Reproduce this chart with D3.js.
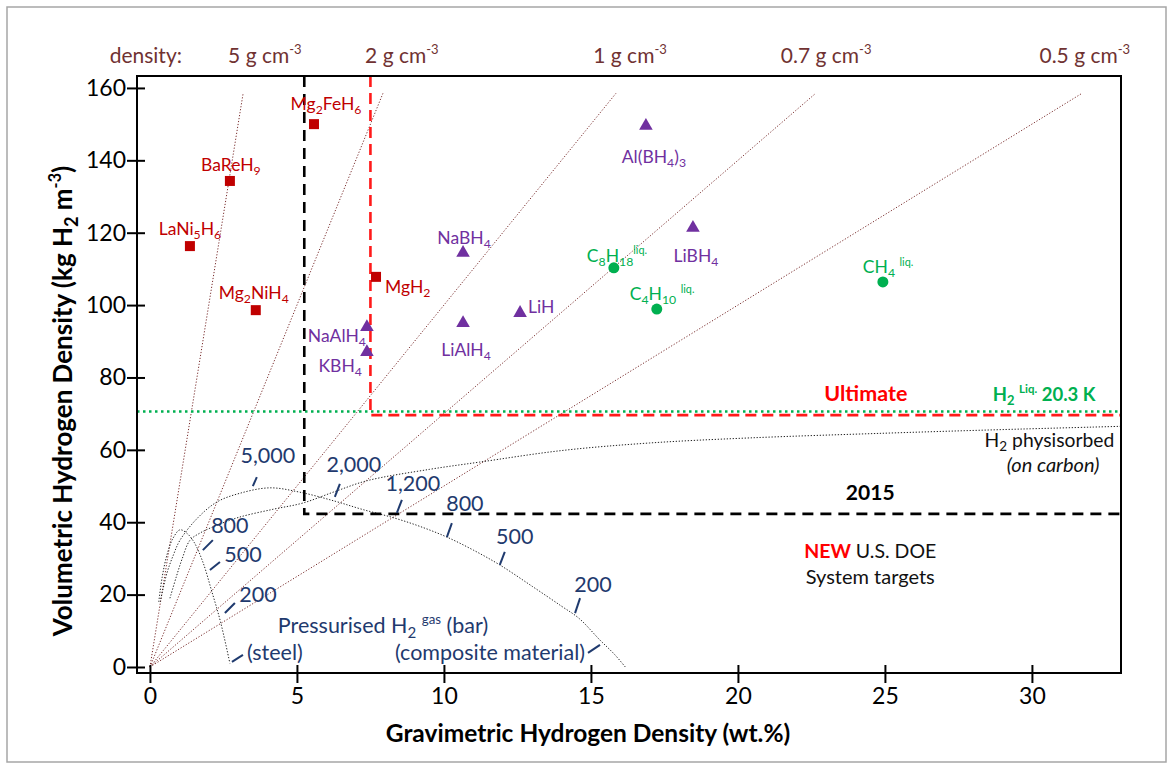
<!DOCTYPE html>
<html><head><meta charset="utf-8">
<script src="https://cdn.jsdelivr.net/npm/d3@7"></script>
<style>
body{margin:0;background:#fff}
svg{display:block}
text{font-family:Lato,"Open Sans",sans-serif}
</style></head>
<body><svg id="chart" width="1170" height="765"></svg>
<script>
// ---------- DATA ----------
const xTickValues = [0, 5, 10, 15, 20, 25, 30];
const yTickValues = [0, 20, 40, 60, 80, 100, 120, 140, 160];

const densityValues = [5, 2, 1, 0.7, 0.5];          // g cm^-3
const densityLabels = ["5", "2", "1", "0.7", "0.5"];
const densityLineTop = 158.5;                       // kg m^-3 where dotted lines end

const metalNames = ["Mg_{2}FeH_{6}", "BaReH_{9}", "LaNi_{5}H_{6}", "Mg_{2}NiH_{4}", "MgH_{2}"];
const metalWt    = [5.58, 2.72, 1.36, 3.60, 7.69];
const metalVol   = [150.0, 134.3, 116.3, 98.6, 107.8];

const complexNames = ["Al(BH_{4})_{3}", "LiBH_{4}", "NaBH_{4}", "LiAlH_{4}", "LiH", "NaAlH_{4}", "KBH_{4}"];
const complexWt    = [16.87, 18.47, 10.65, 10.65, 12.59, 7.38, 7.38];
const complexVol   = [149.8, 121.6, 114.7, 95.3, 98.1, 94.2, 87.3];

const liquidNames = ["C_{8}H_{18}^{liq.}", "C_{4}H_{10} ^{liq.}", "CH_{4} ^{liq.}"];
const liquidWt    = [15.78, 17.24, 24.93];
const liquidVol   = [110.3, 98.9, 106.4];

// target / reference values
const liquidH2Vol = 70.6;
const ultimateWt = 7.5, ultimateVol = 69.6;
const target2015Wt = 5.25, target2015Vol = 42.3;

// curves (wt.%, kg m^-3)
const steelCurve = [[0.3,18],[0.42,25],[0.58,31],[0.78,35.5],[1.02,37.9],[1.25,37],[1.5,34.5],[1.8,29],[2.1,21],[2.4,12.5],[2.72,1]];
const compositeCurve = [[0.35,18],[0.58,26],[0.8,31],[1.02,35],[1.6,41],[2.28,45.6],[3.06,48],[4.08,49.5],[5.1,48.3],[6.3,45.8],[7.2,43.6],[8.3,41.2],[9.2,38.8],[10.1,35.9],[11.0,32.3],[11.9,28.2],[13.0,22.3],[14.0,16.8],[14.6,13.4],[15.3,7.5],[15.8,3.5],[16.2,-0.3]];
const physiCurve = [[0.68,19],[0.9,25],[1.1,30],[1.36,35],[1.7,37],[2.14,38.7],[3.0,41.3],[4.2,43.6],[5.2,45.3],[6.3,48.5],[7.4,51.5],[9.5,54.6],[11.2,56.6],[14,59.8],[17,61.9],[20.4,63.3],[25,64.6],[29,65.6],[33.03,66.5]];

const pressureTexts = ["5,000", "800", "500", "200", "(steel)", "2,000", "1,200", "800", "500", "200", "(composite material)"];
const pressureWt    = [3.50, 1.80, 2.04, 2.55, 2.79, 6.29, 8.40, 10.10, 11.90, 14.46, 14.90];
const pressureVol   = [50.0, 32.3, 26.8, 14.9, 1.4, 47.0, 42.6, 35.9, 28.2, 14.9, 3.9];

// ---------- LAYOUT / STYLE ----------
const frame = {left: 137, top: 76, right: 1121, bottom: 673};
const x = d3.scaleLinear().domain([-0.44, 33.03]).range([frame.left, frame.right]);
const y = d3.scaleLinear().domain([-1.66, 163.3]).range([frame.bottom, frame.top]);

const RED = "#c00000", PURPLE = "#7030a0", GREEN = "#00b050", NAVY = "#1f3a6e", BROWN = "#703232", DLINE = "#7a2e2e";

const svg = d3.select("#chart");

// rich text helper: _{..} subscript, ^{..} superscript
function rich(sel, str, size) {
  const re = /(_\{[^}]*\}|\^\{[^}]*\}|[^_^]+)/g;
  let m, off = 0;
  sel.attr("font-size", size);
  while ((m = re.exec(str)) !== null) {
    const tok = m[0];
    let target = 0, txt = tok, fs = size;
    if (tok.startsWith("_{")) { txt = tok.slice(2, -1); target = 0.22 * size; fs = 0.7 * size; }
    else if (tok.startsWith("^{")) { txt = tok.slice(2, -1); target = -0.42 * size; fs = 0.62 * size; }
    sel.append("tspan").attr("dy", target - off).attr("font-size", fs).text(txt);
    off = target;
  }
}

// outer grey border
svg.append("rect").attr("x", 7).attr("y", 7).attr("width", 1159).attr("height", 755)
  .attr("fill", "none").attr("stroke", "#a6a6a6").attr("stroke-width", 1.5);

// density lines
const line = d3.line().x(d => x(d[0])).y(d => y(d[1]));
svg.append("g").selectAll("path").data(densityValues).join("path")
  .attr("d", d => line([[0, 0], [densityLineTop / (10 * d), densityLineTop]]))
  .attr("fill", "none").attr("stroke", DLINE).attr("stroke-width", 1)
  .attr("stroke-dasharray", "1.2,1.8");

// density labels
const densityLabelX = [3.91, 8.57, 16.33, 23.0, 31.8];
svg.append("text").attr("x", x(-0.14)).attr("y", 63).attr("text-anchor", "middle")
  .attr("fill", BROWN).attr("font-size", 21).text("density:");
densityLabels.forEach((t, i) => {
  const tx = svg.append("text").attr("x", x(densityLabelX[i])).attr("y", 63)
    .attr("text-anchor", "middle").attr("fill", BROWN);
  rich(tx, t + " g cm^{-3}", 21);
});

// pressure curves
const curve = d3.line().curve(d3.curveCatmullRom).x(d => x(d[0])).y(d => y(d[1]));
[steelCurve, compositeCurve, physiCurve].forEach(c => {
  svg.append("path").attr("d", curve(c)).attr("fill", "none")
    .attr("stroke", "#222").attr("stroke-width", 1).attr("stroke-dasharray", "1.3,1.7");
});

// target lines
svg.append("line").attr("x1", x(-0.44)).attr("x2", x(33.03)).attr("y1", y(liquidH2Vol)).attr("y2", y(liquidH2Vol))
  .attr("stroke", GREEN).attr("stroke-width", 2.6).attr("stroke-dasharray", "2.5,3.5");
svg.append("path")
  .attr("d", `M${x(ultimateWt)},${frame.top} L${x(ultimateWt)},${y(ultimateVol)} L${frame.right},${y(ultimateVol)}`)
  .attr("fill", "none").attr("stroke", "#ff1a1a").attr("stroke-width", 2.6).attr("stroke-dasharray", "11,6");
svg.append("path")
  .attr("d", `M${x(target2015Wt)},${frame.top} L${x(target2015Wt)},${y(target2015Vol)} L${frame.right},${y(target2015Vol)}`)
  .attr("fill", "none").attr("stroke", "#000").attr("stroke-width", 2.6).attr("stroke-dasharray", "11,7");

// pressure annotations
const pTick = [[4,-9],[10,-10],[10,-8],[10,-10],[11,-7],[5,-13],[5,-13],[5,-14],[5,-13],[5,-15],[12,-8]];
const pLab  = [[15,-23,"middle"],[27,-17,"middle"],[33,-8,"middle"],[33,-11,"middle"],[15,-2,"start"],
               [19,-25,"middle"],[16,-22,"middle"],[18,-26,"middle"],[15,-21,"middle"],[18,-21,"middle"],[-3,7,"end"]];
const pg = svg.append("g");
pressureTexts.forEach((t, i) => {
  const px = x(pressureWt[i]), py = y(pressureVol[i]);
  pg.append("line").attr("x1", px).attr("y1", py).attr("x2", px + pTick[i][0]).attr("y2", py + pTick[i][1])
    .attr("stroke", NAVY).attr("stroke-width", 2);
  pg.append("text").attr("x", px + pLab[i][0]).attr("y", py + pLab[i][1]).attr("text-anchor", pLab[i][2])
    .attr("fill", NAVY).attr("font-size", 21.5).text(t);
});
const pt = svg.append("text").attr("x", x(4.35)).attr("y", y(9.4)).attr("fill", NAVY);
rich(pt, "Pressurised H_{2} ^{gas} (bar)", 21.5);

// points
const pts = svg.append("g");
pts.selectAll("rect").data(metalWt.map((w, i) => [w, metalVol[i]])).join("rect")
  .attr("x", d => x(d[0]) - 5).attr("y", d => y(d[1]) - 5).attr("width", 10).attr("height", 10).attr("fill", RED);
const tri = d3.symbol().type(d3.symbolTriangle).size(80);
pts.selectAll("path.tri").data(complexWt.map((w, i) => [w, complexVol[i]])).join("path").attr("class", "tri")
  .attr("d", tri).attr("transform", d => `translate(${x(d[0])},${y(d[1]) + 1})`).attr("fill", PURPLE);
pts.selectAll("circle").data(liquidWt.map((w, i) => [w, liquidVol[i]])).join("circle")
  .attr("cx", d => x(d[0])).attr("cy", d => y(d[1])).attr("r", 5.5).attr("fill", GREEN);

// point labels
function labels(names, wt, vol, offs, color) {
  names.forEach((n, i) => {
    const t = svg.append("text").attr("x", x(wt[i]) + offs[i][0]).attr("y", y(vol[i]) + offs[i][1])
      .attr("text-anchor", offs[i][2]).attr("fill", color);
    rich(t, n, 17.5);
  });
}
labels(metalNames, metalWt, metalVol,
  [[12,-14,"middle"],[1,-10,"middle"],[0,-11,"middle"],[-2,-11,"middle"],[9,16,"start"]], RED);
labels(complexNames, complexWt, complexVol,
  [[8,38,"middle"],[3,35,"middle"],[1,-8,"middle"],[3,34,"middle"],[8,1,"start"],[-1,16,"end"],[-5,21,"end"]], PURPLE);
labels(liquidNames, liquidWt, liquidVol,
  [[-27,-6,"start"],[-27,-9,"start"],[-20,-9,"start"]], GREEN);

// legend-like annotations
svg.append("text").attr("x", x(24.35)).attr("y", y(73.5)).attr("text-anchor", "middle")
  .attr("fill", "#ff0000").attr("font-weight", "bold").attr("font-size", 21.5).text("Ultimate");
const h2l = svg.append("text").attr("x", x(28.67)).attr("y", y(73.5)).attr("fill", GREEN).attr("font-weight", "bold");
rich(h2l, "H_{2} ^{Liq.} 20.3 K", 18.5);
svg.append("text").attr("x", x(24.5)).attr("y", y(46.1)).attr("text-anchor", "middle")
  .attr("font-weight", "bold").attr("font-size", 21).text("2015");
const phys = svg.append("text").attr("x", x(32.8)).attr("y", y(60.8)).attr("text-anchor", "end").attr("fill", "#111");
rich(phys, "H_{2} physisorbed", 19.3);
svg.append("text").attr("x", x(32.3)).attr("y", y(53.9)).attr("text-anchor", "end")
  .attr("font-style", "italic").attr("font-size", 20).attr("fill", "#111").text("(on carbon)");
const nw = svg.append("text").attr("x", x(24.5)).attr("y", y(30.1)).attr("text-anchor", "middle").attr("font-size", 19.5).attr("fill", "#111");
nw.append("tspan").attr("fill", "#ff0000").attr("font-weight", "bold").text("NEW");
nw.append("tspan").text(" U.S. DOE");
svg.append("text").attr("x", x(24.5)).attr("y", y(22.9)).attr("text-anchor", "middle")
  .attr("font-size", 20).attr("fill", "#111").text("System targets");

// frame & axes
svg.append("path").attr("d", `M${frame.left},${frame.bottom} L${frame.left},${frame.top} L${frame.right},${frame.top} L${frame.right},${frame.bottom} Z`)
  .attr("fill", "none").attr("stroke", "#000").attr("stroke-width", 2);

const yAxis = svg.append("g").attr("transform", `translate(${frame.left},0)`)
  .call(d3.axisLeft(y).tickValues(yTickValues).tickSize(9).tickPadding(5).tickSizeOuter(0));
yAxis.select(".domain").remove();
yAxis.selectAll(".tick line").attr("x2", -10).attr("x1", 8).attr("stroke-width", 2);
yAxis.selectAll(".tick text").attr("font-size", 23).attr("font-family", "Lato").attr("fill", "#000").attr("x", -11);

const xAxis = svg.append("g").attr("transform", `translate(0,${frame.bottom})`)
  .call(d3.axisBottom(x).tickValues(xTickValues).tickSize(9).tickPadding(8).tickSizeOuter(0));
xAxis.select(".domain").remove();
xAxis.selectAll(".tick line").attr("y1", -8).attr("y2", 10).attr("stroke-width", 2);
xAxis.selectAll(".tick text").attr("font-size", 23).attr("font-family", "Lato").attr("fill", "#000").attr("y", 15);

// axis titles
svg.append("text").attr("x", 588).attr("y", 742).attr("text-anchor", "middle")
  .attr("font-weight", "bold").attr("font-size", 24.5).text("Gravimetric Hydrogen Density (wt.%)");
const yt = svg.append("text").attr("transform", "translate(72,401) rotate(-90)").attr("text-anchor", "middle")
  .attr("font-weight", "bold");
rich(yt, "Volumetric Hydrogen Density (kg H_{2} m^{-3})", 26);
</script>
</body></html>
